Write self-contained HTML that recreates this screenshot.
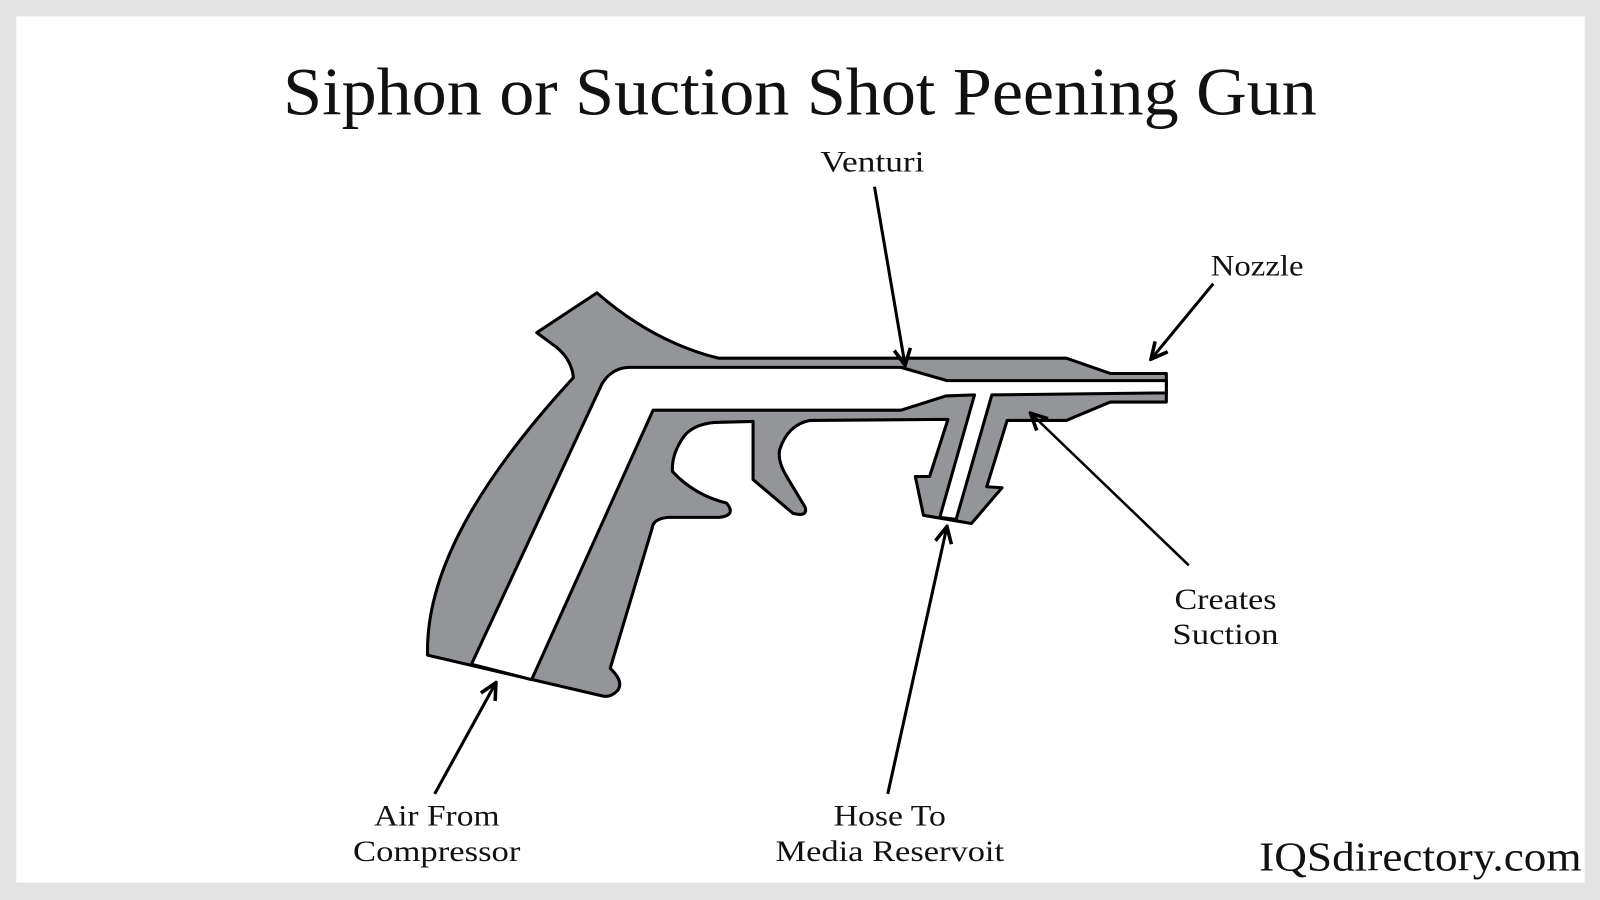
<!DOCTYPE html>
<html><head><meta charset="utf-8"><style>
html,body{margin:0;padding:0;background:#e3e3e3;}
svg{display:block;}
text{font-family:"Liberation Serif","DejaVu Serif",serif;fill:#111;}
</style></head><body>
<svg width="1600" height="900" viewBox="0 0 1568 882" xmlns="http://www.w3.org/2000/svg">
<defs>
<marker id="ah" viewBox="0 0 20 20" refX="18" refY="10" markerWidth="20" markerHeight="20" markerUnits="userSpaceOnUse" orient="auto">
<path d="M2,2 L18,10 L2,18" fill="none" stroke="#000" stroke-width="3.5"/>
</marker>
</defs>
<rect x="0" y="0" width="1568" height="882" fill="#e3e3e3"/>
<rect x="16" y="16" width="1537" height="849" fill="#fff"/>
<text x="784" y="112" text-anchor="middle" font-size="66" textLength="1013" lengthAdjust="spacingAndGlyphs">Siphon or Suction Shot Peening Gun</text>

<path d="M585,287 Q640,335 704,351 L1045,351 L1088,366 L1143,366 L1143,394 L1088,394 L1045,412 L987,412 L967,477 L982,478 L952,513 L905,505 L897,467 L911,467 L929,411
L794,412 Q772,416 764,441 Q762,452 771,467 L789,497 Q792,507 777,503 L738,470 L738,413 L700,414 Q679,416 670,428 Q658,445 659,462 Q680,485 712,493 Q722,505 705,507 L655,507 Q640,508 639,518 L598,655 Q612,668 605,677 Q598,684 590,682 L419,642 C417,560 470,470 562,370 Q560,352 545,340 L526,326 Z"
fill="#939598" stroke="#000" stroke-width="3" stroke-linejoin="round"/>
<path d="M462,651 L590,376 Q600,360 617,360 L883,360 L928,373 L1143,373 L1143,385 L972,387 L937,509 L921,507 L955,387 L927,388 L883,402 L640,402 L521,666 Z"
fill="#fff" stroke="#000" stroke-width="3" stroke-linejoin="round"/>

<g stroke="#000" stroke-width="3" fill="none">
<line x1="857" y1="183" x2="887" y2="358" marker-end="url(#ah)"/>
<line x1="1189" y1="278" x2="1128" y2="352" marker-end="url(#ah)"/>
<line x1="1165" y1="554" x2="1010" y2="405" marker-end="url(#ah)" stroke-width="2.5"/>
<line x1="870" y1="778" x2="928" y2="516" marker-end="url(#ah)"/>
<line x1="426" y1="778" x2="486" y2="669" marker-end="url(#ah)"/>
</g>

<g font-size="29" text-anchor="middle" lengthAdjust="spacingAndGlyphs">
<text x="855" y="168" textLength="102" lengthAdjust="spacingAndGlyphs">Venturi</text>
<text x="1232" y="270" textLength="91" lengthAdjust="spacingAndGlyphs">Nozzle</text>
<text x="1201" y="597" textLength="100" lengthAdjust="spacingAndGlyphs">Creates</text>
<text x="1201" y="631" textLength="104" lengthAdjust="spacingAndGlyphs">Suction</text>
<text x="872" y="809" textLength="110" lengthAdjust="spacingAndGlyphs">Hose To</text>
<text x="872" y="844" textLength="224" lengthAdjust="spacingAndGlyphs">Media Reservoit</text>
<text x="428" y="809" textLength="123" lengthAdjust="spacingAndGlyphs">Air From</text>
<text x="428" y="844" textLength="164" lengthAdjust="spacingAndGlyphs">Compressor</text>
</g>
<text x="1550" y="853" text-anchor="end" font-size="40" textLength="316" lengthAdjust="spacingAndGlyphs">IQSdirectory.com</text>
</svg>
</body></html>
